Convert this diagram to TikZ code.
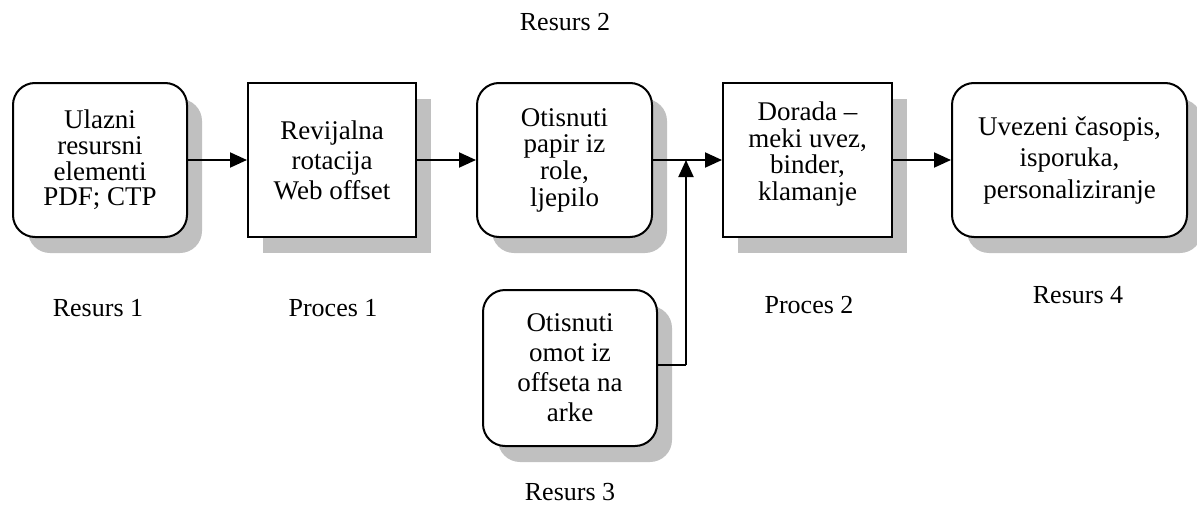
\documentclass[tikz,border=0pt]{standalone}
\usepackage{fontspec}
\setmainfont{Liberation Serif}
\usetikzlibrary{arrows.meta,shadows}
\definecolor{shadowgray}{HTML}{C0C0C0}
\tikzset{
  boxbase/.style={draw=black, line width=2pt, fill=white, align=center, inner sep=0pt,
    minimum height=154pt,
    drop shadow={shadow xshift=15pt, shadow yshift=-16pt, fill=shadowgray, opacity=1}},
  rbox/.style={boxbase, rounded corners=22pt},
  sbox/.style={boxbase},
  lbl/.style={anchor=base, inner sep=0pt, font=\fontsize{26}{30}\selectfont},
  conn/.style={line width=2pt, -{Triangle[length=17pt,width=15pt]}},
  plain/.style={line width=2pt}
}
\begin{document}
\begin{tikzpicture}[x=1pt,y=-1pt]
\useasboundingbox (0,0) rectangle (1197,506);
\node[rbox, minimum width=174pt, font=\fontsize{27}{25.7}\selectfont] (b1) at (100,160)
  {Ulazni\\resursni\\elementi\\PDF; CTP};
\node[sbox, minimum width=168pt, font=\fontsize{27}{30}\selectfont] (b2) at (332,160)
  {Revijalna\\rotacija\\Web offset};
\node[rbox, minimum width=175pt, font=\fontsize{27}{26.7}\selectfont] (b3) at (564.5,160)
  {Otisnuti\\papir iz\\role,\\ljepilo};
\node[sbox, minimum width=169pt, text depth=18pt, font=\fontsize{27}{26.7}\selectfont] (b4) at (807.5,160)
  {Dorada --\\meki uvez,\\binder,\\klamanje};
\node[rbox, minimum width=235pt, font=\fontsize{27}{31.5}\selectfont] (b5) at (1069.5,160)
  {Uvezeni časopis,\\isporuka,\\personaliziranje};
\node[rbox, minimum width=174pt, minimum height=156pt, font=\fontsize{27}{30}\selectfont] (b6) at (570,368)
  {Otisnuti\\omot iz\\offseta na\\arke};
\coordinate (j) at (686,160);
\coordinate (c) at (686,365);
\draw[conn] (b1) -- (b2);
\draw[conn] (b2) -- (b3);
\draw[conn] (b3) -- (b4);
\draw[conn] (b4) -- (b5);
\draw[plain] (b6.east |- c) -- (c);
\draw[conn] (c) -- (j);
\node[lbl] (r2) at (565,30) {Resurs 2};
\node[lbl] (r1) at (98,316) {Resurs 1};
\node[lbl] (p1) at (333,316) {Proces 1};
\node[lbl] (p2) at (809,313) {Proces 2};
\node[lbl] (r4) at (1078,303) {Resurs 4};
\node[lbl] (r3) at (570,500) {Resurs 3};
\end{tikzpicture}
\end{document}
